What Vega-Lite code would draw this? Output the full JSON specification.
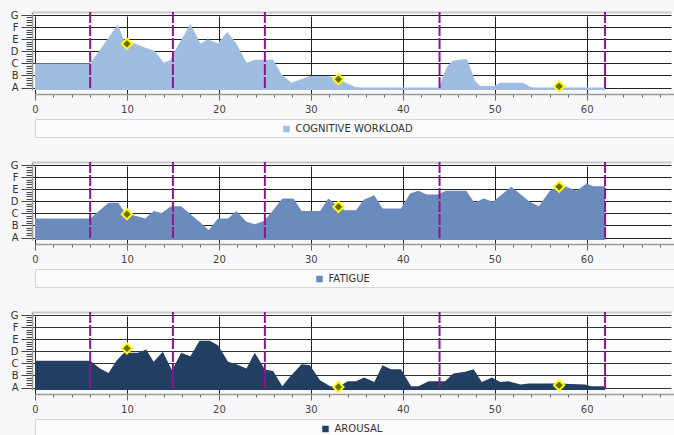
{
  "$schema": "https://vega.github.io/schema/vega-lite/v6.json",
  "background": "#f8f8fa",
  "padding": {"left": 10, "top": 7, "right": 0, "bottom": 0},
  "datasets": {
    "levels": [
      {"series": "COGNITIVE WORKLOAD", "time": 0, "level": 2},
      {"series": "COGNITIVE WORKLOAD", "time": 6, "level": 2},
      {"series": "COGNITIVE WORKLOAD", "time": 9, "level": 5.2},
      {"series": "COGNITIVE WORKLOAD", "time": 9.7, "level": 3.9},
      {"series": "COGNITIVE WORKLOAD", "time": 10, "level": 3.65},
      {"series": "COGNITIVE WORKLOAD", "time": 10.5, "level": 3.75},
      {"series": "COGNITIVE WORKLOAD", "time": 12, "level": 3.3},
      {"series": "COGNITIVE WORKLOAD", "time": 13, "level": 3.05},
      {"series": "COGNITIVE WORKLOAD", "time": 14, "level": 2.05},
      {"series": "COGNITIVE WORKLOAD", "time": 14.7, "level": 2.25},
      {"series": "COGNITIVE WORKLOAD", "time": 15.2, "level": 3.0},
      {"series": "COGNITIVE WORKLOAD", "time": 16.9, "level": 5.25},
      {"series": "COGNITIVE WORKLOAD", "time": 18, "level": 3.65},
      {"series": "COGNITIVE WORKLOAD", "time": 18.8, "level": 4.0},
      {"series": "COGNITIVE WORKLOAD", "time": 19.9, "level": 3.65},
      {"series": "COGNITIVE WORKLOAD", "time": 20.9, "level": 4.6},
      {"series": "COGNITIVE WORKLOAD", "time": 21.9, "level": 3.65},
      {"series": "COGNITIVE WORKLOAD", "time": 23, "level": 2.05},
      {"series": "COGNITIVE WORKLOAD", "time": 23.9, "level": 2.3},
      {"series": "COGNITIVE WORKLOAD", "time": 25.9, "level": 2.3},
      {"series": "COGNITIVE WORKLOAD", "time": 26.8, "level": 1.1},
      {"series": "COGNITIVE WORKLOAD", "time": 27.9, "level": 0.4},
      {"series": "COGNITIVE WORKLOAD", "time": 29.9, "level": 0.95},
      {"series": "COGNITIVE WORKLOAD", "time": 31.9, "level": 0.95},
      {"series": "COGNITIVE WORKLOAD", "time": 33, "level": 0.7},
      {"series": "COGNITIVE WORKLOAD", "time": 33.7, "level": 0.45},
      {"series": "COGNITIVE WORKLOAD", "time": 34.8, "level": 0.05},
      {"series": "COGNITIVE WORKLOAD", "time": 35.5, "level": 0},
      {"series": "COGNITIVE WORKLOAD", "time": 44, "level": 0},
      {"series": "COGNITIVE WORKLOAD", "time": 44.3, "level": 0.8},
      {"series": "COGNITIVE WORKLOAD", "time": 44.8, "level": 1.7},
      {"series": "COGNITIVE WORKLOAD", "time": 45.4, "level": 2.2},
      {"series": "COGNITIVE WORKLOAD", "time": 46.5, "level": 2.35},
      {"series": "COGNITIVE WORKLOAD", "time": 47, "level": 2.35},
      {"series": "COGNITIVE WORKLOAD", "time": 47.4, "level": 1.5},
      {"series": "COGNITIVE WORKLOAD", "time": 47.9, "level": 0.5},
      {"series": "COGNITIVE WORKLOAD", "time": 48.4, "level": 0.15},
      {"series": "COGNITIVE WORKLOAD", "time": 49.9, "level": 0.1},
      {"series": "COGNITIVE WORKLOAD", "time": 50.6, "level": 0.4},
      {"series": "COGNITIVE WORKLOAD", "time": 53.1, "level": 0.4},
      {"series": "COGNITIVE WORKLOAD", "time": 53.9, "level": 0.05},
      {"series": "COGNITIVE WORKLOAD", "time": 54.5, "level": 0},
      {"series": "COGNITIVE WORKLOAD", "time": 62, "level": 0},
      {"series": "FATIGUE", "time": 0, "level": 1.57},
      {"series": "FATIGUE", "time": 6, "level": 1.57},
      {"series": "FATIGUE", "time": 8, "level": 2.87},
      {"series": "FATIGUE", "time": 9.06, "level": 2.87},
      {"series": "FATIGUE", "time": 9.6, "level": 2.26},
      {"series": "FATIGUE", "time": 10, "level": 1.95},
      {"series": "FATIGUE", "time": 10.7, "level": 1.85},
      {"series": "FATIGUE", "time": 12, "level": 1.57},
      {"series": "FATIGUE", "time": 12.9, "level": 2.2},
      {"series": "FATIGUE", "time": 13.8, "level": 2.04},
      {"series": "FATIGUE", "time": 14.7, "level": 2.54},
      {"series": "FATIGUE", "time": 15, "level": 2.6},
      {"series": "FATIGUE", "time": 15.9, "level": 2.6},
      {"series": "FATIGUE", "time": 16.8, "level": 2.0},
      {"series": "FATIGUE", "time": 17.9, "level": 1.3},
      {"series": "FATIGUE", "time": 18.9, "level": 0.6},
      {"series": "FATIGUE", "time": 19.9, "level": 1.57},
      {"series": "FATIGUE", "time": 21, "level": 1.57},
      {"series": "FATIGUE", "time": 21.9, "level": 2.2},
      {"series": "FATIGUE", "time": 23, "level": 1.3},
      {"series": "FATIGUE", "time": 23.9, "level": 1.1},
      {"series": "FATIGUE", "time": 24.9, "level": 1.38},
      {"series": "FATIGUE", "time": 25.9, "level": 2.27},
      {"series": "FATIGUE", "time": 26.9, "level": 3.23},
      {"series": "FATIGUE", "time": 28.1, "level": 3.23},
      {"series": "FATIGUE", "time": 29, "level": 2.2},
      {"series": "FATIGUE", "time": 31, "level": 2.2},
      {"series": "FATIGUE", "time": 31.9, "level": 3.23},
      {"series": "FATIGUE", "time": 33, "level": 2.54},
      {"series": "FATIGUE", "time": 33.7, "level": 2.27},
      {"series": "FATIGUE", "time": 34.9, "level": 2.27},
      {"series": "FATIGUE", "time": 35.8, "level": 3.15},
      {"series": "FATIGUE", "time": 36.9, "level": 3.5},
      {"series": "FATIGUE", "time": 37.8, "level": 2.4},
      {"series": "FATIGUE", "time": 39.8, "level": 2.4},
      {"series": "FATIGUE", "time": 40.8, "level": 3.65},
      {"series": "FATIGUE", "time": 41.7, "level": 3.87},
      {"series": "FATIGUE", "time": 42.6, "level": 3.56},
      {"series": "FATIGUE", "time": 43.8, "level": 3.56},
      {"series": "FATIGUE", "time": 44.7, "level": 3.87},
      {"series": "FATIGUE", "time": 46.9, "level": 3.87},
      {"series": "FATIGUE", "time": 47.8, "level": 2.87},
      {"series": "FATIGUE", "time": 48.8, "level": 3.23},
      {"series": "FATIGUE", "time": 49.8, "level": 2.96},
      {"series": "FATIGUE", "time": 51.8, "level": 4.2},
      {"series": "FATIGUE", "time": 53.8, "level": 2.96},
      {"series": "FATIGUE", "time": 54.8, "level": 2.6},
      {"series": "FATIGUE", "time": 56, "level": 3.87},
      {"series": "FATIGUE", "time": 56.9, "level": 4.2},
      {"series": "FATIGUE", "time": 57.8, "level": 4.2},
      {"series": "FATIGUE", "time": 58.9, "level": 3.87},
      {"series": "FATIGUE", "time": 60, "level": 4.48},
      {"series": "FATIGUE", "time": 60.7, "level": 4.25},
      {"series": "FATIGUE", "time": 62, "level": 4.25},
      {"series": "AROUSAL", "time": 0, "level": 2.21},
      {"series": "AROUSAL", "time": 6, "level": 2.21},
      {"series": "AROUSAL", "time": 7.07, "level": 1.57},
      {"series": "AROUSAL", "time": 8, "level": 1.2},
      {"series": "AROUSAL", "time": 8.9, "level": 2.27},
      {"series": "AROUSAL", "time": 9.8, "level": 2.96},
      {"series": "AROUSAL", "time": 10, "level": 3.05},
      {"series": "AROUSAL", "time": 10.3, "level": 2.87},
      {"series": "AROUSAL", "time": 11.2, "level": 2.87},
      {"series": "AROUSAL", "time": 12.1, "level": 3.15},
      {"series": "AROUSAL", "time": 12.9, "level": 2.13},
      {"series": "AROUSAL", "time": 13.9, "level": 2.96},
      {"series": "AROUSAL", "time": 14.9, "level": 1.44},
      {"series": "AROUSAL", "time": 15.9, "level": 2.87},
      {"series": "AROUSAL", "time": 16.9, "level": 2.6},
      {"series": "AROUSAL", "time": 17.9, "level": 3.87},
      {"series": "AROUSAL", "time": 19, "level": 3.87},
      {"series": "AROUSAL", "time": 19.9, "level": 3.5},
      {"series": "AROUSAL", "time": 21, "level": 2.13},
      {"series": "AROUSAL", "time": 21.9, "level": 1.93},
      {"series": "AROUSAL", "time": 23, "level": 1.57},
      {"series": "AROUSAL", "time": 23.9, "level": 2.87},
      {"series": "AROUSAL", "time": 25, "level": 1.5},
      {"series": "AROUSAL", "time": 25.9, "level": 1.38},
      {"series": "AROUSAL", "time": 26.9, "level": 0.1},
      {"series": "AROUSAL", "time": 27.7, "level": 0.88},
      {"series": "AROUSAL", "time": 29, "level": 1.93},
      {"series": "AROUSAL", "time": 29.9, "level": 1.85},
      {"series": "AROUSAL", "time": 31, "level": 0.6},
      {"series": "AROUSAL", "time": 32.1, "level": 0.1},
      {"series": "AROUSAL", "time": 33, "level": 0.05},
      {"series": "AROUSAL", "time": 34, "level": 0.52},
      {"series": "AROUSAL", "time": 34.9, "level": 0.52},
      {"series": "AROUSAL", "time": 35.8, "level": 0.83},
      {"series": "AROUSAL", "time": 36.9, "level": 0.47},
      {"series": "AROUSAL", "time": 37.8, "level": 1.85},
      {"series": "AROUSAL", "time": 38.7, "level": 1.52},
      {"series": "AROUSAL", "time": 39.8, "level": 1.52},
      {"series": "AROUSAL", "time": 40.9, "level": 0.1},
      {"series": "AROUSAL", "time": 41.7, "level": 0.1},
      {"series": "AROUSAL", "time": 42.8, "level": 0.52},
      {"series": "AROUSAL", "time": 44.6, "level": 0.52},
      {"series": "AROUSAL", "time": 45.5, "level": 1.16},
      {"series": "AROUSAL", "time": 46.8, "level": 1.3},
      {"series": "AROUSAL", "time": 47.7, "level": 1.52},
      {"series": "AROUSAL", "time": 48.6, "level": 0.47},
      {"series": "AROUSAL", "time": 49.7, "level": 0.83},
      {"series": "AROUSAL", "time": 50.6, "level": 0.47},
      {"series": "AROUSAL", "time": 51.5, "level": 0.52},
      {"series": "AROUSAL", "time": 52.8, "level": 0.25},
      {"series": "AROUSAL", "time": 53.7, "level": 0.33},
      {"series": "AROUSAL", "time": 56.8, "level": 0.33},
      {"series": "AROUSAL", "time": 59.8, "level": 0.25},
      {"series": "AROUSAL", "time": 60.5, "level": 0.1},
      {"series": "AROUSAL", "time": 62, "level": 0.1}
    ],
    "markers": [
      {"series": "COGNITIVE WORKLOAD", "time": 10, "level": 3.62},
      {"series": "COGNITIVE WORKLOAD", "time": 33, "level": 0.69},
      {"series": "COGNITIVE WORKLOAD", "time": 57, "level": 0.1},
      {"series": "FATIGUE", "time": 10, "level": 1.93},
      {"series": "FATIGUE", "time": 33, "level": 2.54},
      {"series": "FATIGUE", "time": 57, "level": 4.2},
      {"series": "AROUSAL", "time": 10, "level": 3.24},
      {"series": "AROUSAL", "time": 33, "level": 0.05},
      {"series": "AROUSAL", "time": 57, "level": 0.19}
    ],
    "phases": [
      {"time": 6}, {"time": 15}, {"time": 25}, {"time": 44}, {"time": 62}
    ]
  },
  "spacing": 19,
  "vconcat": [
    {
      "spacing": 4,
      "vconcat": [
        {
          "width": 639,
          "height": 78,
          "layer": [
            {
              "data": {"name": "levels"},
              "transform": [{"filter": "datum.series === 'COGNITIVE WORKLOAD'"}],
              "mark": {"type": "area", "color": "#9fbde1", "opacity": 1},
              "encoding": {
                "x": {
                  "field": "time", "type": "quantitative", "title": null,
                  "scale": {"domain": [0, 69.5], "nice": false},
                  "axis": {
                    "values": [0, 2, 4, 6, 8, 10, 12, 14, 16, 18, 20, 22, 24, 26, 28, 30, 32, 34, 36, 38, 40, 42, 44, 46, 48, 50, 52, 54, 56, 58, 60, 62, 64, 66, 68],
                    "tickCount": 200, "labelOverlap": false, "format": "d",
                    "labelExpr": "datum.value % 10 === 0 ? datum.label : ''",
                    "tickSize": {"condition": {"test": "datum.value % 10 === 0", "value": 6}, "value": 3},
                    "gridOpacity": {"condition": {"test": "datum.value % 10 === 0", "value": 1}, "value": 0}
                  }
                },
                "y": {
                  "field": "level", "type": "quantitative", "title": null,
                  "scale": {"domain": [-0.2, 6.25], "nice": false, "zero": false},
                  "axis": {
                    "values": [0, 0.2, 0.4, 0.6, 0.8, 1, 1.2, 1.4, 1.6, 1.8, 2, 2.2, 2.4, 2.6, 2.8, 3, 3.2, 3.4, 3.6, 3.8, 4, 4.2, 4.4, 4.6, 4.8, 5, 5.2, 5.4, 5.6, 5.8, 6, 6.25],
                    "tickCount": 200, "labelOverlap": false,
                    "labelExpr": "datum.value % 1 === 0 ? substring('ABCDEFG', datum.value, datum.value + 1) : ''",
                    "tickSize": {"condition": [{"test": "datum.value > 6.1", "value": 0}, {"test": "datum.value % 1 === 0", "value": 11}], "value": 6},
                    "gridOpacity": {"condition": {"test": "datum.value % 1 === 0 || datum.value > 6.1", "value": 1}, "value": 0},
                    "gridColor": {"condition": {"test": "datum.value > 6.1", "value": "#c8c8c8"}, "value": "#222222"},
                    "gridWidth": {"condition": {"test": "datum.value > 6.1", "value": 2}, "value": 1}
                  }
                },
                "y2": {"datum": -0.2}
              }
            },
            {
              "data": {"name": "phases"},
              "mark": {"type": "rule", "color": "#8e168e", "strokeWidth": 2, "strokeDash": [11, 2]},
              "encoding": {"x": {"field": "time", "type": "quantitative", "title": null}}
            },
            {
              "data": {"name": "markers"},
              "transform": [{"filter": "datum.series === 'COGNITIVE WORKLOAD'"}],
              "mark": {"type": "point", "shape": "diamond", "filled": true, "fill": "#6b6b00", "stroke": "#ffff00", "strokeWidth": 2, "size": 105, "opacity": 1},
              "encoding": {
                "x": {"field": "time", "type": "quantitative", "title": null},
                "y": {"field": "level", "type": "quantitative", "title": null}
              }
            }
          ]
        },
        {
          "width": 639,
          "height": 18,
          "view": {"stroke": "#d6d6d6", "fill": "#fbfbfc"},
          "data": {"values": [{"series": "COGNITIVE WORKLOAD"}]},
          "layer": [
            {"mark": {"type": "square", "size": 42, "color": "#9fbde1", "opacity": 1, "xOffset": -68, "yOffset": 1}, "encoding": {}},
            {"mark": {"type": "text", "align": "left", "baseline": "middle", "dx": -59, "dy": 1, "font": "DejaVu Sans", "fontSize": 10, "color": "#333333"}, "encoding": {"text": {"field": "series"}}}
          ]
        }
      ]
    },
    {
      "spacing": 4,
      "vconcat": [
        {
          "width": 639,
          "height": 78,
          "layer": [
            {
              "data": {"name": "levels"},
              "transform": [{"filter": "datum.series === 'FATIGUE'"}],
              "mark": {"type": "area", "color": "#6a8bbb", "opacity": 1},
              "encoding": {
                "x": {
                  "field": "time", "type": "quantitative", "title": null,
                  "scale": {"domain": [0, 69.5], "nice": false},
                  "axis": {
                    "values": [0, 2, 4, 6, 8, 10, 12, 14, 16, 18, 20, 22, 24, 26, 28, 30, 32, 34, 36, 38, 40, 42, 44, 46, 48, 50, 52, 54, 56, 58, 60, 62, 64, 66, 68],
                    "tickCount": 200, "labelOverlap": false, "format": "d",
                    "labelExpr": "datum.value % 10 === 0 ? datum.label : ''",
                    "tickSize": {"condition": {"test": "datum.value % 10 === 0", "value": 6}, "value": 3},
                    "gridOpacity": {"condition": {"test": "datum.value % 10 === 0", "value": 1}, "value": 0}
                  }
                },
                "y": {
                  "field": "level", "type": "quantitative", "title": null,
                  "scale": {"domain": [-0.2, 6.25], "nice": false, "zero": false},
                  "axis": {
                    "values": [0, 0.2, 0.4, 0.6, 0.8, 1, 1.2, 1.4, 1.6, 1.8, 2, 2.2, 2.4, 2.6, 2.8, 3, 3.2, 3.4, 3.6, 3.8, 4, 4.2, 4.4, 4.6, 4.8, 5, 5.2, 5.4, 5.6, 5.8, 6, 6.25],
                    "tickCount": 200, "labelOverlap": false,
                    "labelExpr": "datum.value % 1 === 0 ? substring('ABCDEFG', datum.value, datum.value + 1) : ''",
                    "tickSize": {"condition": [{"test": "datum.value > 6.1", "value": 0}, {"test": "datum.value % 1 === 0", "value": 11}], "value": 6},
                    "gridOpacity": {"condition": {"test": "datum.value % 1 === 0 || datum.value > 6.1", "value": 1}, "value": 0},
                    "gridColor": {"condition": {"test": "datum.value > 6.1", "value": "#c8c8c8"}, "value": "#222222"},
                    "gridWidth": {"condition": {"test": "datum.value > 6.1", "value": 2}, "value": 1}
                  }
                },
                "y2": {"datum": -0.2}
              }
            },
            {
              "data": {"name": "phases"},
              "mark": {"type": "rule", "color": "#8e168e", "strokeWidth": 2, "strokeDash": [11, 2]},
              "encoding": {"x": {"field": "time", "type": "quantitative", "title": null}}
            },
            {
              "data": {"name": "markers"},
              "transform": [{"filter": "datum.series === 'FATIGUE'"}],
              "mark": {"type": "point", "shape": "diamond", "filled": true, "fill": "#6b6b00", "stroke": "#ffff00", "strokeWidth": 2, "size": 105, "opacity": 1},
              "encoding": {
                "x": {"field": "time", "type": "quantitative", "title": null},
                "y": {"field": "level", "type": "quantitative", "title": null}
              }
            }
          ]
        },
        {
          "width": 639,
          "height": 18,
          "view": {"stroke": "#d6d6d6", "fill": "#fbfbfc"},
          "data": {"values": [{"series": "FATIGUE"}]},
          "layer": [
            {"mark": {"type": "square", "size": 42, "color": "#6a8bbb", "opacity": 1, "xOffset": -35, "yOffset": 1}, "encoding": {}},
            {"mark": {"type": "text", "align": "left", "baseline": "middle", "dx": -26, "dy": 1, "font": "DejaVu Sans", "fontSize": 10, "color": "#333333"}, "encoding": {"text": {"field": "series"}}}
          ]
        }
      ]
    },
    {
      "spacing": 4,
      "vconcat": [
        {
          "width": 639,
          "height": 78,
          "layer": [
            {
              "data": {"name": "levels"},
              "transform": [{"filter": "datum.series === 'AROUSAL'"}],
              "mark": {"type": "area", "color": "#223f63", "opacity": 1},
              "encoding": {
                "x": {
                  "field": "time", "type": "quantitative", "title": null,
                  "scale": {"domain": [0, 69.5], "nice": false},
                  "axis": {
                    "values": [0, 2, 4, 6, 8, 10, 12, 14, 16, 18, 20, 22, 24, 26, 28, 30, 32, 34, 36, 38, 40, 42, 44, 46, 48, 50, 52, 54, 56, 58, 60, 62, 64, 66, 68],
                    "tickCount": 200, "labelOverlap": false, "format": "d",
                    "labelExpr": "datum.value % 10 === 0 ? datum.label : ''",
                    "tickSize": {"condition": {"test": "datum.value % 10 === 0", "value": 6}, "value": 3},
                    "gridOpacity": {"condition": {"test": "datum.value % 10 === 0", "value": 1}, "value": 0}
                  }
                },
                "y": {
                  "field": "level", "type": "quantitative", "title": null,
                  "scale": {"domain": [-0.2, 6.25], "nice": false, "zero": false},
                  "axis": {
                    "values": [0, 0.2, 0.4, 0.6, 0.8, 1, 1.2, 1.4, 1.6, 1.8, 2, 2.2, 2.4, 2.6, 2.8, 3, 3.2, 3.4, 3.6, 3.8, 4, 4.2, 4.4, 4.6, 4.8, 5, 5.2, 5.4, 5.6, 5.8, 6, 6.25],
                    "tickCount": 200, "labelOverlap": false,
                    "labelExpr": "datum.value % 1 === 0 ? substring('ABCDEFG', datum.value, datum.value + 1) : ''",
                    "tickSize": {"condition": [{"test": "datum.value > 6.1", "value": 0}, {"test": "datum.value % 1 === 0", "value": 11}], "value": 6},
                    "gridOpacity": {"condition": {"test": "datum.value % 1 === 0 || datum.value > 6.1", "value": 1}, "value": 0},
                    "gridColor": {"condition": {"test": "datum.value > 6.1", "value": "#c8c8c8"}, "value": "#2a3a2a"},
                    "gridWidth": {"condition": {"test": "datum.value > 6.1", "value": 2}, "value": 1}
                  }
                },
                "y2": {"datum": -0.2}
              }
            },
            {
              "data": {"name": "phases"},
              "mark": {"type": "rule", "color": "#8e168e", "strokeWidth": 2, "strokeDash": [11, 2]},
              "encoding": {"x": {"field": "time", "type": "quantitative", "title": null}}
            },
            {
              "data": {"name": "markers"},
              "transform": [{"filter": "datum.series === 'AROUSAL'"}],
              "mark": {"type": "point", "shape": "diamond", "filled": true, "fill": "#6b6b00", "stroke": "#ffff00", "strokeWidth": 2, "size": 105, "opacity": 1},
              "encoding": {
                "x": {"field": "time", "type": "quantitative", "title": null},
                "y": {"field": "level", "type": "quantitative", "title": null}
              }
            }
          ]
        },
        {
          "width": 639,
          "height": 18,
          "view": {"stroke": "#d6d6d6", "fill": "#fbfbfc"},
          "data": {"values": [{"series": "AROUSAL"}]},
          "layer": [
            {"mark": {"type": "square", "size": 42, "color": "#223f63", "opacity": 1, "xOffset": -29, "yOffset": 1}, "encoding": {}},
            {"mark": {"type": "text", "align": "left", "baseline": "middle", "dx": -20, "dy": 1, "font": "DejaVu Sans", "fontSize": 10, "color": "#333333"}, "encoding": {"text": {"field": "series"}}}
          ]
        }
      ]
    }
  ],
  "config": {
    "view": {"stroke": null, "fill": "#ffffff"},
    "axis": {
      "zindex": 1,
      "labelFont": "DejaVu Sans",
      "labelFontSize": 10,
      "labelColor": "#444444",
      "labelFlush": false,
      "labelOverlap": false,
      "domainColor": "#9a9a9a",
      "domainWidth": 1.5,
      "tickColor": "#666666",
      "gridColor": "#222222",
      "gridWidth": 1
    },
    "axisX": {"offset": 4, "labelPadding": 4},
    "axisY": {"offset": 3, "labelPadding": 3, "labelColor": "#333333", "tickColor": "#444444"}
  }
}
